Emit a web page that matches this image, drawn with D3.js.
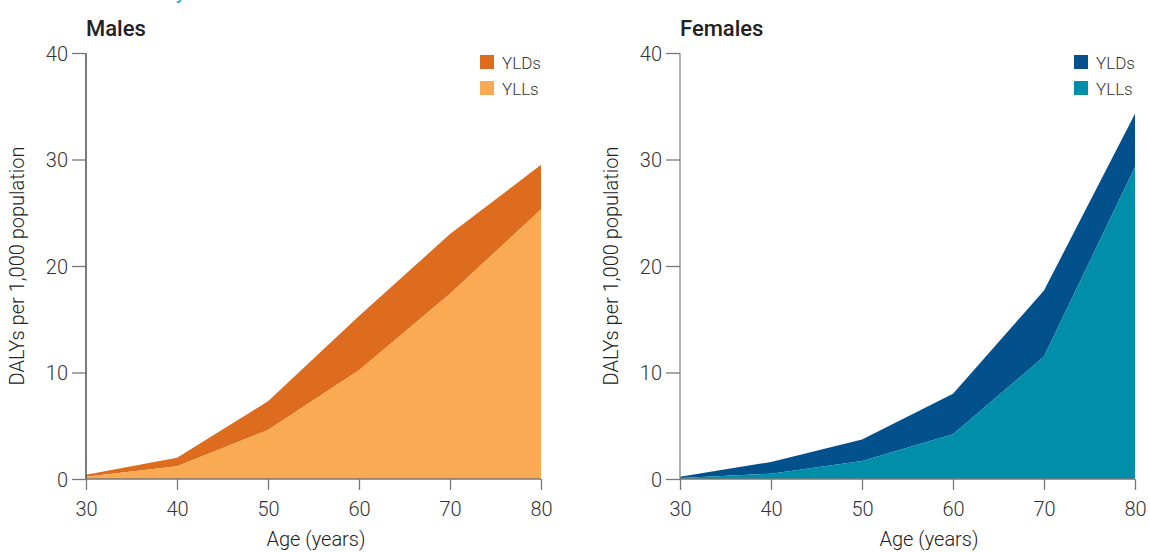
<!DOCTYPE html>
<html><head><meta charset="utf-8">
<script src="https://cdn.jsdelivr.net/npm/d3@7"></script>
<style>
body{margin:0;background:#fff;}
text{font-family:Roboto,"Liberation Sans",sans-serif;}
</style></head>
<body><svg id="c" width="1150" height="552"></svg>
<script>
const ages = [30, 40, 50, 60, 70, 80];
const maleYLLs = [0.2, 1.2, 4.6, 10.2, 17.4, 25.3];
const maleYLDs = [0.2, 0.8, 2.7, 5.1, 5.6, 4.2];
const femaleYLLs = [0.1, 0.5, 1.7, 4.2, 11.5, 29.3];
const femaleYLDs = [0.1, 1.1, 2.0, 3.8, 6.2, 5.0];
const yTicks = [0, 10, 20, 30, 40];
const seriesNames = ["YLDs", "YLLs"];

const svg = d3.select("#c");

// teal fragment of cut-off heading above
svg.append("text").attr("x", 176).attr("y", -1).attr("font-size", 20)
  .attr("fill", "#1a9bc0").text("y");

function panel(opts) {
  const {x0, x1, title, ylls, ylds, cYLD, cYLL, axisCol, xLabelCx, legendX} = opts;
  const yTop = 53, yBot = 479;
  const x = d3.scaleLinear().domain([30, 80]).range([x0, x1]);
  const y = d3.scaleLinear().domain([0, 40]).range([yBot, yTop]);
  const g = svg.append("g");
  const rows = ages.map((a, i) => ({age: a, YLLs: ylls[i], YLDs: ylds[i]}));
  const stack = d3.stack().keys(["YLLs", "YLDs"])(rows);
  const area = d3.area().x(d => x(d.data.age)).y0(d => y(d[0])).y1(d => y(d[1]));
  g.append("path").datum(stack[1]).attr("d", area).attr("fill", cYLD);
  g.append("path").datum(stack[0]).attr("d", area).attr("fill", cYLL);

  // y axis
  const ya = g.append("g").attr("transform", `translate(${x0},0)`)
    .call(d3.axisLeft(y).tickValues(yTicks).tickSize(14).tickPadding(4).tickFormat(d3.format("d")));
  ya.select(".domain").attr("stroke", axisCol).attr("stroke-width", 1.3).attr("d", `M0,${yTop}V${yBot}`);
  ya.selectAll(".tick line").attr("stroke", "#777").attr("stroke-width", 1.3);
  ya.selectAll(".tick text").attr("font-size", 20).attr("fill", "#333").attr("font-weight", 300).attr("dy", "0.35em");

  // x axis
  const xa = g.append("g").attr("transform", `translate(0,${yBot})`)
    .call(d3.axisBottom(x).tickValues(ages).tickSize(11).tickPadding(12).tickFormat(d3.format("d")));
  xa.select(".domain").attr("stroke", "#777").attr("stroke-width", 1.3).attr("d", `M${x0},0H${x1}`);
  xa.selectAll(".tick line").attr("stroke", "#777").attr("stroke-width", 1.3);
  xa.selectAll(".tick text").attr("font-size", 20).attr("fill", "#333").attr("font-weight", 300);

  // titles
  g.append("text").attr("x", x0).attr("y", 36).attr("font-size", 22).attr("font-weight", 500)
    .attr("fill", "#222").text(title);
  g.append("text").attr("transform", `translate(${x0 - 62},${(yTop + yBot) / 2}) rotate(-90)`)
    .attr("text-anchor", "middle").attr("font-size", 20).attr("fill", "#222").attr("font-weight", 300)
    .text("DALYs per 1,000 population");
  g.append("text").attr("x", xLabelCx).attr("y", 546).attr("text-anchor", "middle")
    .attr("font-size", 20).attr("fill", "#222").attr("font-weight", 300).text("Age (years)");

  // legend
  const cols = [cYLD, cYLL];
  seriesNames.forEach((n, i) => {
    const ly = 55 + i * 26;
    g.append("rect").attr("x", legendX).attr("y", ly).attr("width", 14).attr("height", 14).attr("fill", cols[i]);
    g.append("text").attr("x", legendX + 22).attr("y", ly + 13.5).attr("font-size", 17)
      .attr("fill", "#333").attr("font-weight", 300).text(n);
  });
}

panel({x0: 86, x1: 541, title: "Males", ylls: maleYLLs, ylds: maleYLDs,
  cYLD: "#DE6C1F", cYLL: "#F9AA53", axisCol: "#333", xLabelCx: 316, legendX: 480});
panel({x0: 680, x1: 1135, title: "Females", ylls: femaleYLLs, ylds: femaleYLDs,
  cYLD: "#02518C", cYLL: "#008EA8", axisCol: "#888", xLabelCx: 929, legendX: 1074});
</script></body></html>
